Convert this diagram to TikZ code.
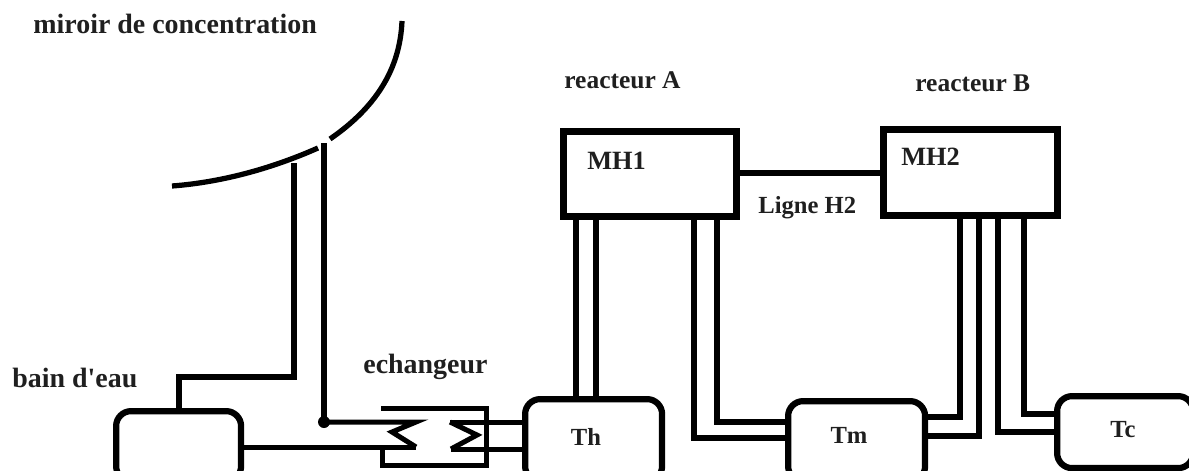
\documentclass[tikz,border=0pt]{standalone}
\usepackage{fontspec}
\setmainfont{Liberation Serif}
\newfontfamily\plainser{Liberation Serif}
\tikzset{
  x=0.02cm,y=-0.02cm,
  pipe/.style={draw=black,line width=0.105cm,line join=miter},
  thin pipe/.style={draw=black,line width=0.1cm,line join=miter},
  reactor/.style={draw=black,line width=0.14cm,inner sep=0pt,anchor=north west},
  tank/.style={draw=black,line width=0.125cm,rounded corners=0.3cm,inner sep=0pt,anchor=north west},
  lbl/.style={font=\fontsize{15.9pt}{17pt}\selectfont\bfseries,inner sep=0pt,text=black!88},
  lblb/.style={font=\fontsize{14.5pt}{17pt}\selectfont\bfseries,inner sep=0pt,text=black!88},
  tag/.style={font=\fontsize{14pt}{17pt}\selectfont\bfseries,inner sep=0pt,text=black!88},
  mhtag/.style={font=\fontsize{15pt}{17pt}\selectfont\bfseries,inner sep=0pt,text=black!88},
}
\begin{document}
\begin{tikzpicture}
\useasboundingbox (0,0) rectangle (1189,470);
\clip (0,0) rectangle (1189,470);
% boxes
\node[reactor,minimum width=3.46cm,minimum height=1.70cm] (mh1) at (560,128) {};
\node[reactor,minimum width=3.48cm,minimum height=1.72cm] (mh2) at (880,126) {};
\node[tank,minimum width=2.50cm,minimum height=1.4cm] (bain) at (113,408) {};
\node[tank,minimum width=2.74cm,minimum height=1.64cm] (th) at (522,396) {};
\node[tank,minimum width=2.74cm,minimum height=1.6cm] (tm) at (785,398) {};
\node[tank,minimum width=2.72cm,minimum height=1.44cm] (tc) at (1054,393) {};
% labels
\node[lbl,anchor=west] (l1) at (33,24) {miroir de concentration};
\node[lblb,anchor=west] (l2) at (564,80) {reacteur A};
\node[lblb,anchor=west] (l3) at (915,83) {reacteur B};
\node[mhtag,anchor=west] (l4) at (587,161) {MH1};
\node[mhtag,anchor=west] (l5) at (901,157) {MH2};
\node[tag,anchor=west] (l6) at (758,208) {Ligne H2};
\node[lbl,anchor=west] (l7) at (363,367) {echangeur};
\node[lbl,anchor=west] (l8) at (12,378) {\plainser\bfseries bain d'eau};
\node[tag] (l9) at (586,437) {Th};
\node[tag] (l10) at (849,435) {Tm};
\node[tag] (l11) at (1123,430) {Tc};
% mirror
\draw[pipe] (172,186) .. controls (225,182) and (275,167) .. (318,148);
\draw[pipe] (330,139) .. controls (375,108) and (400,70) .. (402,21);
% coordinates
\coordinate (ja) at (294,163);
\coordinate (jb) at (324,143);
\coordinate (jc) at (324,422);
\coordinate (ka) at (576,0);
\coordinate (kb) at (596,0);
\coordinate (ma) at (694,0);
\coordinate (mb) at (717,0);
\coordinate (na) at (960,0);
\coordinate (nb) at (979,0);
\coordinate (oa) at (998,0);
\coordinate (ob) at (1024,0);
% exchanger
\coordinate (ea) at (381,408);
\coordinate (eb) at (486,408);
\coordinate (ec) at (486,465);
\coordinate (ed) at (382,465);
\coordinate (ee) at (382,447);
\coordinate (z1) at (416,422);
\coordinate (z2) at (392,432);
\coordinate (z3) at (416,447);
\coordinate (y1) at (450,422);
\coordinate (y2) at (477,435);
\coordinate (y3) at (451,449);
\draw[thin pipe] (ea) -- (eb) -- (ec) -- (ed) -- (ee);
\draw[thin pipe] (jc) -- (z1) -- (z2) -- (z3);
\draw[thin pipe] (bain.east |- z3) -- (z3);
\draw[thin pipe] (y1) -- (y2) -- (y3);
\draw[thin pipe] (y1) -- (th.west |- y1);
\draw[thin pipe] (y3) -- (th.west |- y3);
\fill (jc) circle (6);
% connectors
\draw[pipe] (ja) -- (294,377) -- (179,377) -- (bain.north -| 179,0);
\draw[pipe] (jb) -- (jc);
\draw[pipe] (mh1.east |- 0,173) -- (mh2.west |- 0,173);
\draw[pipe] (th.north -| ka) -- (mh1.south -| ka);
\draw[pipe] (th.north -| kb) -- (mh1.south -| kb);
\draw[pipe] (mh1.south -| ma) -- (694,438) -- (tm.west |- 0,438);
\draw[pipe] (mh1.south -| mb) -- (717,422) -- (tm.west |- 0,422);
\draw[pipe] (tm.east |- 0,417) -- (960,417) -- (mh2.south -| na);
\draw[pipe] (tm.east |- 0,436) -- (979,436) -- (mh2.south -| nb);
\draw[pipe] (tc.west |- 0,432) -- (998,432) -- (mh2.south -| oa);
\draw[pipe] (tc.west |- 0,414) -- (1024,414) -- (mh2.south -| ob);
\end{tikzpicture}
\end{document}
